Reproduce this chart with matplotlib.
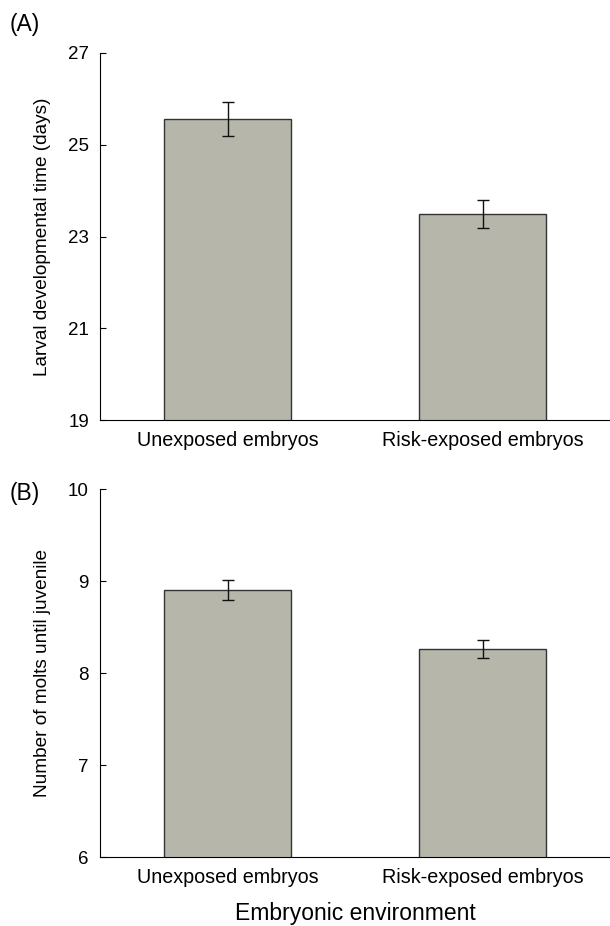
import matplotlib
matplotlib.use("Agg")
import matplotlib.pyplot as plt

plt.rcParams['font.family'] = ['Liberation Sans', 'DejaVu Sans']

groups = ['Unexposed embryos', 'Risk-exposed embryos']
dev_time = [25.56, 23.49]
dev_time_se = [0.37, 0.30]
molts = [8.90, 8.26]
molts_se = [0.11, 0.10]

bar_color = '#b6b6aa'

fig = plt.figure(figsize=(6.1, 9.26), dpi=100)
ax1 = fig.add_axes([0.164, 0.5464, 0.836, 0.3964])
ax2 = fig.add_axes([0.164, 0.0745, 0.836, 0.3974])

def draw(ax, vals, errs, ylim, yticks, ylabel):
    x = list(range(len(vals)))
    ax.bar(x, vals, width=0.5, color=bar_color, edgecolor='#333333', linewidth=1.0)
    ax.errorbar(x, vals, yerr=errs, fmt='none', ecolor='#111111',
                elinewidth=1.0, capsize=4, capthick=1.0)
    ax.set_xlim(-0.5, 1.5)
    ax.set_ylim(*ylim)
    ax.set_yticks(yticks)
    ax.set_xticks(x)
    ax.set_xticklabels(groups, fontsize=14.2)
    ax.tick_params(axis='y', direction='in', length=4, labelsize=13.5, pad=8)
    ax.tick_params(axis='x', length=0, pad=8)
    ax.spines['top'].set_visible(False)
    ax.spines['right'].set_visible(False)
    ax.set_ylabel(ylabel, fontsize=13.7, labelpad=12)

draw(ax1, dev_time, dev_time_se, (19, 27), [19, 21, 23, 25, 27], 'Larval developmental time (days)')
draw(ax2, molts, molts_se, (6, 10), [6, 7, 8, 9, 10], 'Number of molts until juvenile')
ax2.set_xlabel('Embryonic environment', fontsize=16.5, labelpad=11)

fig.text(0.016, 0.974, '(A)', fontsize=16.5, va='center')
fig.text(0.016, 0.467, '(B)', fontsize=16.5, va='center')

fig.savefig('out.png', dpi=100)
